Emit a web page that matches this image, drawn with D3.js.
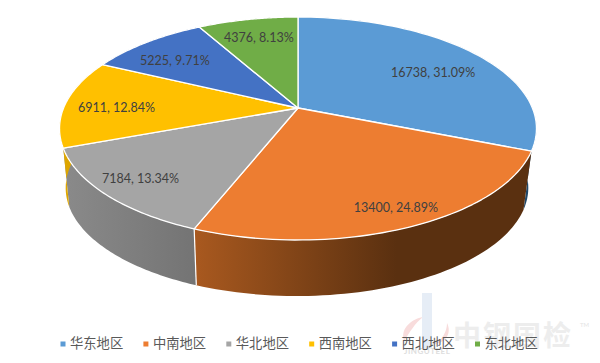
<!DOCTYPE html>
<html>
<head>
<meta charset="utf-8">
<script src="https://cdn.jsdelivr.net/npm/d3@7"></script>
<style>
  html, body { margin: 0; padding: 0; background: #fff; }
  svg { display: block; }
</style>
</head>
<body>
<svg id="chart"></svg>
<script>
// data
const regions = ['华东地区', '中南地区', '华北地区', '西南地区', '西北地区', '东北地区'];
const amounts = [16738, 13400, 7184, 6911, 5225, 4376];
const shares = ['31.09%', '24.89%', '13.34%', '12.84%', '9.71%', '8.13%'];

// colours of the slices, top face then wall (left, right of the gradient)
const topColors = ['#5b9bd5', '#ed7d31', '#a5a5a5', '#ffc000', '#4472c4', '#70ad47'];
const wallLeft = ['#2c5f8e', '#a9591f', '#8a8a8a', '#e0a800', '#2a4a85', '#44702a'];
const wallRight = ['#1f4768', '#5a3010', '#747474', '#c49000', '#203864', '#375623'];

// label placement, as fraction of the radius plus a nudge
const labelRadius = [0.72, 0.85, 0.83, 0.78, 0.85, 0.75];
const labelNudgeX = [5, 6, -2, 0, 8, 0];
const labelNudgeY = [6, 3, 2, 5, 10, 0];

const width = 600;
const height = 363;

// tilted disc: perspective projection of the unit circle
const cx = 298;
const apexY = 108;
const persp = 0.184;
const radiusX = 234.4;
const radiusY = 107.7;
const wallDrop = 60;
const wallScale = 0.97;
const wallShift = -1;

const projX = d3.scaleLinear().domain([-1, 1]).range([cx - radiusX, cx + radiusX]);
const projY = d3.scaleLinear().domain([-1, 1]).range([-radiusY, radiusY]);

function project(angle, r, scale = 1, drop = 0, shift = 0) {
  let x = r * Math.sin(angle);
  let y = -r * Math.cos(angle);
  let w = 1 - persp * y;
  return [
    cx + shift + scale * (projX(x / w) - cx),
    apexY + drop + scale * projY(y / w)
  ];
}

function arcPoints(a0, a1, scale, drop, shift) {
  return d3.range(0, 61).map(i => project(a0 + (a1 - a0) * i / 60, 1, scale, drop, shift));
}

let svg = d3.select('#chart').attr('width', width).attr('height', height);

// ============================================================
// Watermark
// ============================================================
let mark = svg.append('g').attr('class', 'watermark');
mark.append('path')
    .attr('d', 'M404 341 C400 328 412 319 423 317 C415 323 410 332 404 341 Z')
    .style('fill', '#f8dcdc');
mark.append('path')
    .attr('d', 'M434 344 C442 340 447 332 447 323 C452 333 446 343 434 344 Z')
    .style('fill', '#f8dcdc');
mark.append('rect')
    .attr('x', 422).attr('y', 293).attr('width', 10).attr('height', 55)
    .style('fill', '#e6edf6');
mark.append('text')
    .attr('x', 404).attr('y', 354)
    .style('font-family', 'Lato')
    .style('font-size', '8px')
    .style('font-weight', '700')
    .style('letter-spacing', '0.5px')
    .style('fill', '#dedede')
    .text('JINGUTEEL');
mark.append('text')
    .attr('x', 453).attr('y', 346)
    .style('font-family', '"Noto Sans CJK SC"')
    .style('font-size', '28px')
    .style('font-weight', '700')
    .style('letter-spacing', '2px')
    .style('fill', '#ededed')
    .text('中钢国检');
mark.append('text')
    .attr('x', 580).attr('y', 327)
    .style('font-family', 'Lato')
    .style('font-size', '6px')
    .style('fill', '#e4e4e4')
    .text('TM');

// ============================================================
// Pie
// ============================================================
let pie = d3.pie().sort(null).value(d => d);
let slices = pie(amounts);

let defs = svg.append('defs');
slices.forEach((s, i) => {
  let xs = [project(s.startAngle, 1)[0], project(s.endAngle, 1)[0]];
  let grad = defs.append('linearGradient')
      .attr('id', 'wall' + i)
      .attr('gradientUnits', 'userSpaceOnUse')
      .attr('x1', d3.min(xs))
      .attr('x2', d3.max(xs))
      .attr('y1', 0).attr('y2', 0);
  grad.append('stop').attr('offset', 0).attr('stop-color', wallLeft[i]);
  grad.append('stop').attr('offset', i == 1 ? 0.6 : 1).attr('stop-color', wallRight[i]);
});

let line = d3.line();

svg.append('g').attr('class', 'walls')
  .selectAll('path')
  .data(slices)
  .join('path')
    .attr('d', d => line(arcPoints(d.startAngle, d.endAngle, 1, 0, 0)
        .concat(arcPoints(d.startAngle, d.endAngle, wallScale, wallDrop, wallShift).reverse())) + 'Z')
    .style('fill', (d, i) => `url(#wall${i})`);

// white seam on the visible wall joint
svg.append('g').attr('class', 'seams')
  .selectAll('path')
  .data(slices.filter((d, i) => i == 2))
  .join('path')
    .attr('d', d => line([project(d.startAngle, 1), project(d.startAngle, 1, wallScale, wallDrop, wallShift)]))
    .style('stroke', '#fff')
    .style('stroke-width', 1.2);

svg.append('g').attr('class', 'faces')
  .selectAll('path')
  .data(slices)
  .join('path')
    .attr('d', d => line([[cx, apexY]].concat(arcPoints(d.startAngle, d.endAngle, 1, 0, 0))) + 'Z')
    .style('fill', (d, i) => topColors[i])
    .style('stroke', '#fff')
    .style('stroke-width', 1.3)
    .style('stroke-linejoin', 'round');

svg.append('g').attr('class', 'labels')
  .selectAll('text')
  .data(slices)
  .join('text')
    .attr('x', (d, i) => project((d.startAngle + d.endAngle) / 2, labelRadius[i])[0] + labelNudgeX[i])
    .attr('y', (d, i) => project((d.startAngle + d.endAngle) / 2, labelRadius[i])[1] + labelNudgeY[i])
    .attr('text-anchor', 'middle')
    .attr('dominant-baseline', 'middle')
    .style('font-family', 'Lato')
    .style('font-size', '12.5px')
    .style('fill', '#404040')
    .text((d, i) => `${d.data}, ${shares[i]}`);

// ============================================================
// Legend
// ============================================================
let legendX = d3.scalePoint().domain(regions).range([60.5, 475]);

let legend = svg.append('g').attr('class', 'legend')
  .selectAll('g')
  .data(regions)
  .join('g')
    .attr('transform', d => `translate(${legendX(d)}, 344)`);

legend.append('rect')
    .attr('x', 0).attr('y', -2.5).attr('width', 5).attr('height', 5)
    .style('fill', (d, i) => topColors[i]);

legend.append('text')
    .attr('x', 9.5).attr('y', 0)
    .attr('dominant-baseline', 'middle')
    .style('font-family', '"Noto Sans CJK SC"')
    .style('font-size', '13.3px')
    .style('fill', '#595959')
    .text(d => d);
</script>
</body>
</html>
